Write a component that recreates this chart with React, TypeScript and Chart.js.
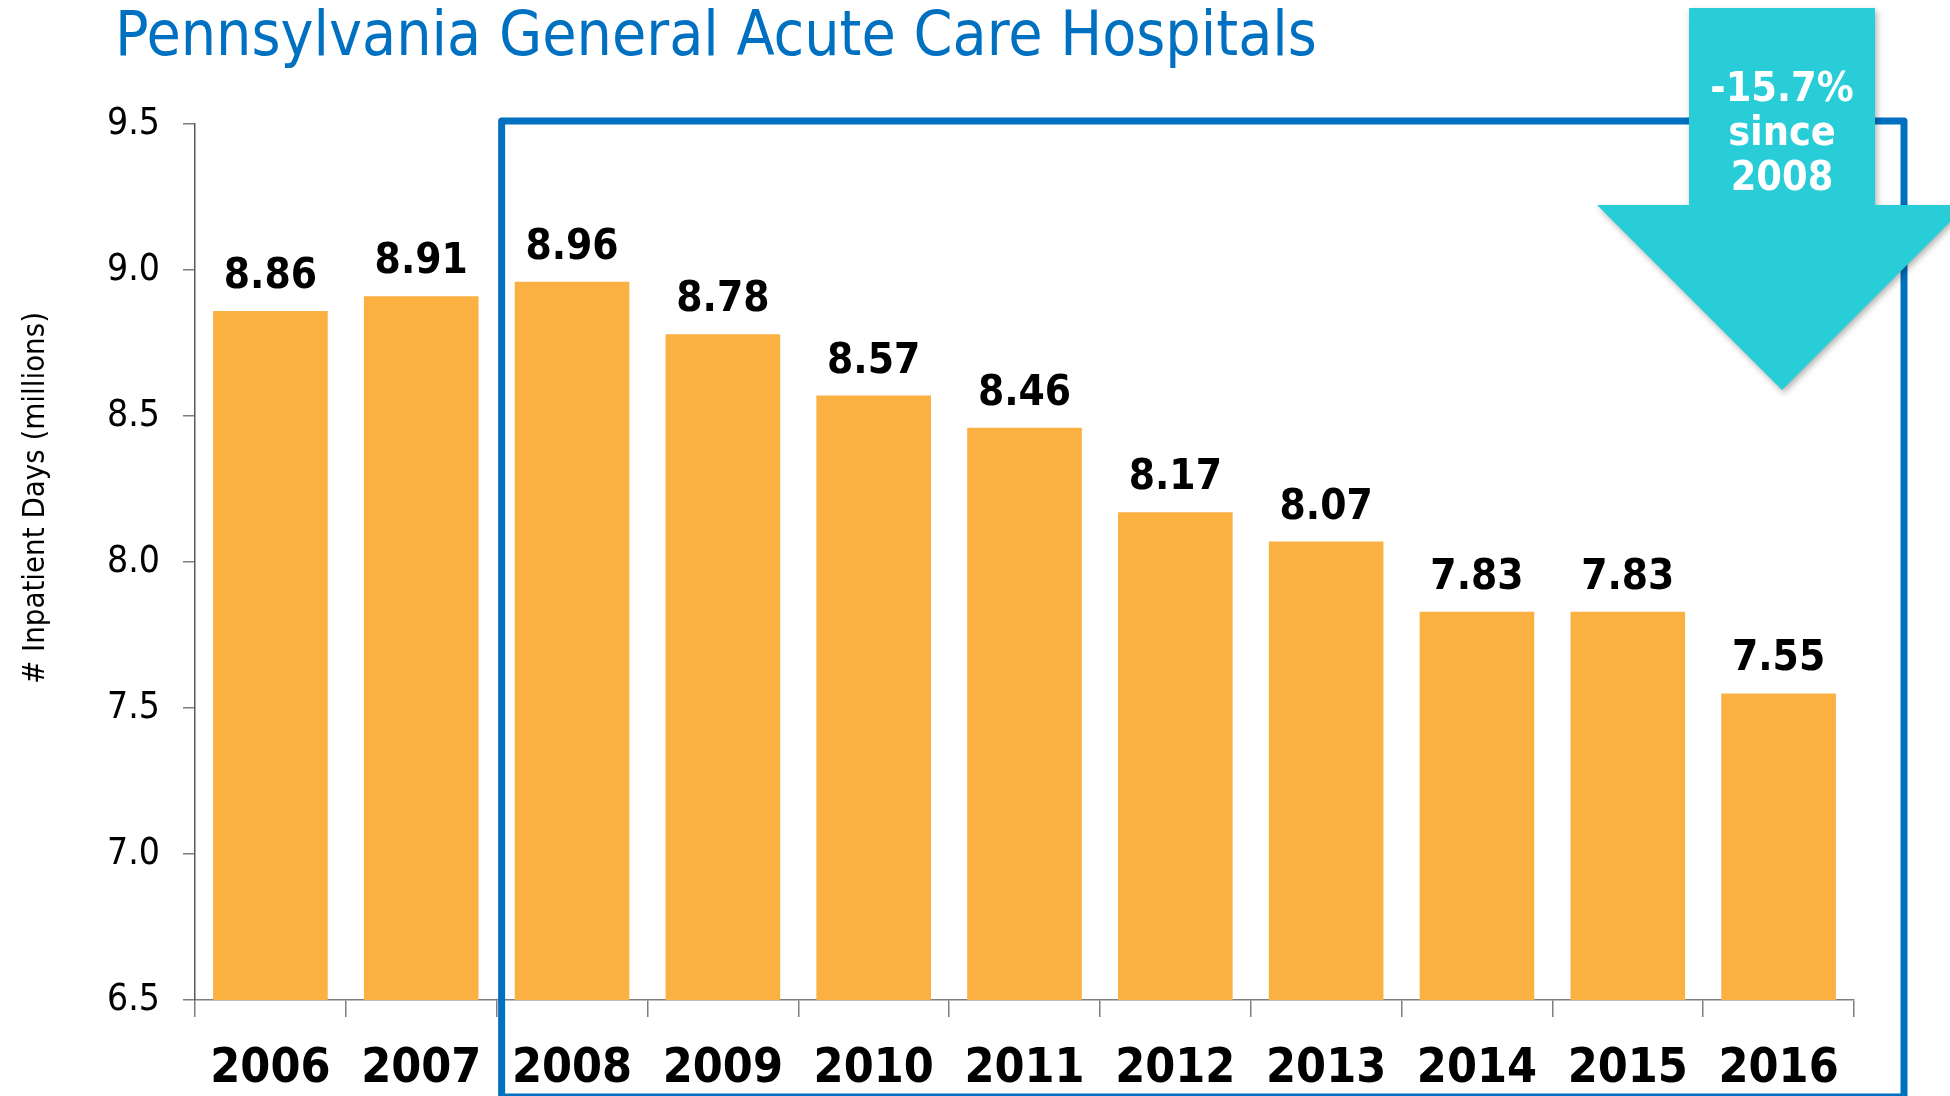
import React, { useEffect, useRef } from 'react';
import { Chart, registerables } from 'chart.js';

Chart.register(...registerables);

// ---- data ----
const years = ['2006', '2007', '2008', '2009', '2010', '2011', '2012', '2013', '2014', '2015', '2016'];
const inpatientDays = [8.86, 8.91, 8.96, 8.78, 8.57, 8.46, 8.17, 8.07, 7.83, 7.83, 7.55];
const yMin = 6.5;
const yMax = 9.5;
const yStep = 0.5;
const titleText = 'Pennsylvania General Acute Care Hospitals';
const yAxisTitle = '# Inpatient Days (millions)';
const calloutLines = ['-15.7%', 'since', '2008'];
const highlightStartIndex = 2; // 2008

const FONT = '"DejaVu Sans Condensed", "DejaVu Sans", sans-serif';
const BLUE = '#0070C0';
const ORANGE = '#FBB042';
const CYAN = '#29CDD7';

const overlayPlugin = {
  id: 'overlay',
  afterDatasetsDraw(chart: any) {
    const ctx = chart.ctx;
    const meta = chart.getDatasetMeta(0);
    ctx.save();
    ctx.font = `bold 42px ${FONT}`;
    ctx.fillStyle = '#000';
    ctx.textAlign = 'center';
    ctx.textBaseline = 'alphabetic';
    meta.data.forEach((bar: any, i: number) => {
      ctx.fillText(inpatientDays[i].toFixed(2), bar.x, bar.y - 23);
    });
    ctx.restore();
  },
  afterDraw(chart: any) {
    const ctx = chart.ctx;
    const xs = chart.scales.x;
    const ys = chart.scales.y;
    const area = chart.chartArea;
    ctx.save();

    // title
    ctx.font = `62px ${FONT}`;
    ctx.fillStyle = BLUE;
    ctx.textAlign = 'left';
    ctx.textBaseline = 'alphabetic';
    ctx.fillText(titleText, 115, 55, 1202);

    // y axis title
    ctx.save();
    ctx.translate(36, 498);
    ctx.rotate(-Math.PI / 2);
    ctx.font = `31px ${FONT}`;
    ctx.fillStyle = '#000';
    ctx.textAlign = 'center';
    ctx.textBaseline = 'middle';
    ctx.fillText(yAxisTitle, 0, 0, 372);
    ctx.restore();

    // highlight frame
    const cat = xs.getPixelForValue(1) - xs.getPixelForValue(0);
    const fl = xs.getPixelForValue(highlightStartIndex) - cat / 2 + 5;
    const fr = area.right + 50;
    const ft = ys.getPixelForValue(yMax) - 3;
    const fb = chart.height + 1;
    ctx.strokeStyle = BLUE;
    ctx.lineWidth = 7;
    ctx.lineJoin = 'round';
    ctx.strokeRect(fl, ft, fr - fl, fb - ft);

    // callout arrow
    const cx = 1782;
    const shaftHalf = 93;
    const headHalf = 185;
    const topY = 8;
    const headY = 205;
    const tipY = 390;
    ctx.save();
    ctx.shadowColor = 'rgba(0,0,0,0.3)';
    ctx.shadowBlur = 6;
    ctx.shadowOffsetX = 2;
    ctx.shadowOffsetY = 3;
    ctx.fillStyle = CYAN;
    ctx.beginPath();
    ctx.moveTo(cx - shaftHalf, topY);
    ctx.lineTo(cx + shaftHalf, topY);
    ctx.lineTo(cx + shaftHalf, headY);
    ctx.lineTo(cx + headHalf, headY);
    ctx.lineTo(cx, tipY);
    ctx.lineTo(cx - headHalf, headY);
    ctx.lineTo(cx - shaftHalf, headY);
    ctx.closePath();
    ctx.fill();
    ctx.restore();

    ctx.font = `bold 41px ${FONT}`;
    ctx.fillStyle = '#fff';
    ctx.textAlign = 'center';
    ctx.textBaseline = 'middle';
    calloutLines.forEach((line, i) => {
      ctx.fillText(line, cx, 90 + i * 44.5);
    });

    ctx.restore();
  },
};

export default function App() {
  const ref = useRef<HTMLCanvasElement | null>(null);

  useEffect(() => {
    if (!ref.current) return;
    const chart = new Chart(ref.current, {
      type: 'bar',
      data: {
        labels: years,
        datasets: [
          {
            data: inpatientDays,
            backgroundColor: ORANGE,
            borderWidth: 0,
            categoryPercentage: 0.95,
            barPercentage: 0.8,
          },
        ],
      },
      options: {
        animation: false,
        responsive: false,
        devicePixelRatio: 1,
        layout: { padding: { top: 124, right: 96, left: 0, bottom: 0 } },
        plugins: {
          legend: { display: false },
          tooltip: { enabled: false },
          title: { display: false },
        },
        scales: {
          x: {
            afterFit: (s: any) => {
              s.height = 96;
            },
            border: { display: true, color: '#7F7F7F', width: 1.5 },
            grid: {
              display: true,
              drawOnChartArea: false,
              drawTicks: true,
              tickLength: 17,
              color: '#7F7F7F',
              lineWidth: 1.5,
            },
            ticks: {
              color: '#000',
              font: { family: FONT, size: 48, weight: 'bold' },
              padding: 24,
              maxRotation: 0,
              autoSkip: false,
            },
          },
          y: {
            min: yMin,
            max: yMax,
            afterFit: (s: any) => {
              s.width = 195;
            },
            border: { display: true, color: '#595959', width: 1.5 },
            grid: {
              display: true,
              drawOnChartArea: false,
              drawTicks: true,
              tickLength: 12,
              color: '#7F7F7F',
              lineWidth: 1.5,
            },
            ticks: {
              stepSize: yStep,
              color: '#000',
              font: { family: FONT, size: 37 },
              padding: 23,
              callback: (v: any) => Number(v).toFixed(1),
            },
          },
        },
      },
      plugins: [overlayPlugin],
    } as any);
    return () => chart.destroy();
  }, []);

  return (
    <div style={{ position: 'absolute', left: 0, top: 0, width: 1950, height: 1096, background: '#fff' }}>
      <canvas ref={ref} width={1950} height={1096} style={{ display: 'block' }} />
    </div>
  );
}
